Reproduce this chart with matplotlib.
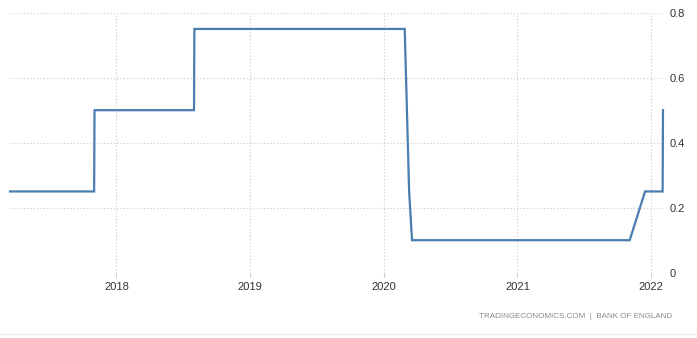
import matplotlib
matplotlib.use("Agg")
import matplotlib.pyplot as plt
from matplotlib.lines import Line2D
import pandas as pd

dates = ["2017-03-16", "2017-11-01", "2017-11-02", "2018-08-01", "2018-08-02",
         "2020-02-28", "2020-03-11", "2020-03-19", "2021-11-04", "2021-12-16",
         "2022-02-02", "2022-02-03"]
rates = [0.25, 0.25, 0.50, 0.50, 0.75, 0.75, 0.25, 0.10, 0.10, 0.25, 0.25, 0.50]
y_ticks = [0, 0.2, 0.4, 0.6, 0.8]
y_labels = ["0", "0.2", "0.4", "0.6", "0.8"]
x_years = ["2018", "2019", "2020", "2021", "2022"]
footer = "TRADINGECONOMICS.COM  |  BANK OF ENGLAND"

plt.rcParams["font.family"] = ["Liberation Sans", "DejaVu Sans"]

W, H = 697, 338
fig = plt.figure(figsize=(W / 100, H / 100), dpi=100)
ax = fig.add_axes([10 / W, (H - 272.7) / H, (663 - 10) / W, (272.7 - 12.7) / H])

x = pd.to_datetime(dates)
ax.plot(x, rates, color="#4a7db0", linewidth=1.6, solid_joinstyle="miter", clip_on=False)

ax.set_xlim(x[0], x[-1])
ax.set_ylim(0, 0.8)
ax.set_yticks(y_ticks)
ax.set_yticklabels(y_labels)
ax.yaxis.tick_right()
ax.set_xticks(pd.to_datetime([y + "-01-01" for y in x_years]))
ax.set_xticklabels(x_years)

for s in ax.spines.values():
    s.set_visible(False)
ax.grid(True, linestyle=(0, (1, 2)), color="#c8c8c8", linewidth=0.8)
ax.tick_params(axis="x", length=3, color="#c8c8c8", labelsize=8, labelcolor="#333333", pad=4, width=0.8)
ax.tick_params(axis="y", length=0, labelsize=8, labelcolor="#333333", pad=5)

fig.text(672 / W, 1 - 317 / H, footer, ha="right", va="center", fontsize=5.8, color="#8a8a8a")
fig.add_artist(Line2D([0, 1], [1 - 333.5 / H] * 2, color="#eeeeee", linewidth=1, transform=fig.transFigure))

fig.savefig("out.png", dpi=100)
